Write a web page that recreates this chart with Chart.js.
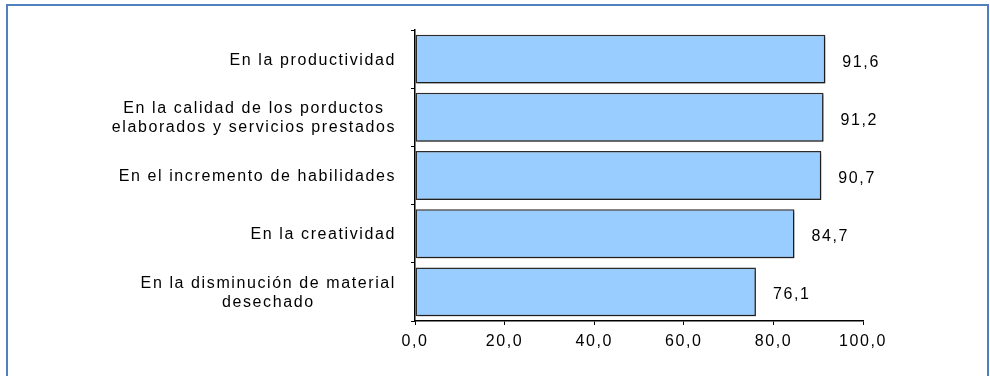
<!DOCTYPE html>
<html>
<head>
<meta charset="utf-8">
<script src="https://cdn.jsdelivr.net/npm/chart.js@4/dist/chart.umd.min.js"></script>
<style>
  html, body { margin: 0; padding: 0; background: #fff; }
  #chart { display: block; }
</style>
</head>
<body>
<canvas id="chart" width="990" height="376" style="width:990px;height:376px"></canvas>
<script>
// Horizontal bar chart: percentages per improvement area.
const categories = [
  ['En la productividad'],
  ['En la calidad de los porductos', 'elaborados y servicios prestados'],
  ['En el incremento de habilidades'],
  ['En la creatividad'],
  ['En la disminución de material', 'desechado'],
];
const values = [91.6, 91.2, 90.7, 84.7, 76.1];
const axisMin = 0;
const axisMax = 100;
const axisStep = 20;

const FAMILY = '"Liberation Sans", Arial, sans-serif';
const FONT = '16px ' + FAMILY;
const SPACING = '1.6px';

function fmt(v) {
  return Number(v).toFixed(1).replace('.', ',');
}

// outer blue frame
const framePlugin = {
  id: 'frame',
  beforeDraw(chart) {
    const ctx = chart.ctx;
    ctx.letterSpacing = SPACING;
    ctx.save();
    ctx.strokeStyle = '#4F81BD';
    ctx.lineWidth = 2;
    ctx.strokeRect(7, 5, 981, 380);
    ctx.restore();
  },
};

// soft drop shadow under the bars
const shadowPlugin = {
  id: 'barShadow',
  beforeDatasetsDraw(chart) {
    const ctx = chart.ctx;
    ctx.save();
    ctx.shadowColor = 'rgba(0, 0, 0, 0.35)';
    ctx.shadowOffsetX = 2;
    ctx.shadowOffsetY = 2;
    ctx.shadowBlur = 2;
  },
  afterDatasetsDraw(chart) {
    chart.ctx.restore();
  },
};

// value next to each bar
const valueLabels = {
  id: 'valueLabels',
  afterDatasetsDraw(chart) {
    const ctx = chart.ctx;
    const meta = chart.getDatasetMeta(0);
    ctx.save();
    ctx.letterSpacing = SPACING;
    ctx.font = FONT;
    ctx.fillStyle = '#000';
    ctx.textAlign = 'left';
    ctx.textBaseline = 'middle';
    meta.data.forEach((bar, i) => {
      ctx.fillText(fmt(values[i]), bar.x + 17, bar.y + 3);
    });
    ctx.restore();
  },
};

// wrapped category labels, lines centred inside a right-aligned block
const categoryLabels = {
  id: 'categoryLabels',
  afterDraw(chart) {
    const ctx = chart.ctx;
    const yScale = chart.scales.y;
    const right = chart.chartArea.left - 19;
    const lineH = 19;
    ctx.save();
    ctx.letterSpacing = SPACING;
    ctx.font = FONT;
    ctx.fillStyle = '#000';
    ctx.textAlign = 'center';
    ctx.textBaseline = 'middle';
    categories.forEach((lines, i) => {
      const maxW = Math.max(...lines.map(l => ctx.measureText(l).width));
      const cx = right - maxW / 2;
      const cy = yScale.getPixelForTick(i) + 1;
      const top = cy - (lines.length - 1) * lineH / 2;
      lines.forEach((l, k) => ctx.fillText(l, cx, top + k * lineH));
    });
    ctx.restore();
  },
};

const ctx = document.getElementById('chart').getContext('2d');

new Chart(ctx, {
  type: 'bar',
  data: {
    labels: categories,
    datasets: [
      {
        data: values,
        backgroundColor: '#99CCFF',
        borderColor: '#2b2b2b',
        borderWidth: 1.5,
        borderSkipped: false,
        barPercentage: 0.84,
        categoryPercentage: 1,
      },
    ],
  },
  options: {
    indexAxis: 'y',
    responsive: false,
    animation: false,
    layout: {
      padding: { top: 30, right: 127, left: 0, bottom: 0 },
    },
    plugins: {
      legend: { display: false },
      tooltip: { enabled: false },
    },
    scales: {
      x: {
        min: axisMin,
        max: axisMax,
        ticks: {
          stepSize: axisStep,
          color: '#000',
          padding: 7,
          font: { family: FAMILY, size: 16 },
          callback: (v) => fmt(v),
        },
        grid: {
          drawOnChartArea: false,
          drawTicks: true,
          tickLength: 4,
          color: '#000',
        },
        border: { color: '#000', width: 1.5 },
        afterFit(scale) {
          scale.height = 55;
        },
      },
      y: {
        ticks: {
          color: 'rgba(0,0,0,0)',
          font: { size: 15 },
        },
        grid: {
          drawOnChartArea: false,
          drawTicks: true,
          tickLength: 4,
          color: '#000',
        },
        border: { color: '#000', width: 1.5 },
        afterFit(scale) {
          scale.width = 415;
        },
      },
    },
  },
  plugins: [framePlugin, shadowPlugin, valueLabels, categoryLabels],
});
</script>
</body>
</html>
